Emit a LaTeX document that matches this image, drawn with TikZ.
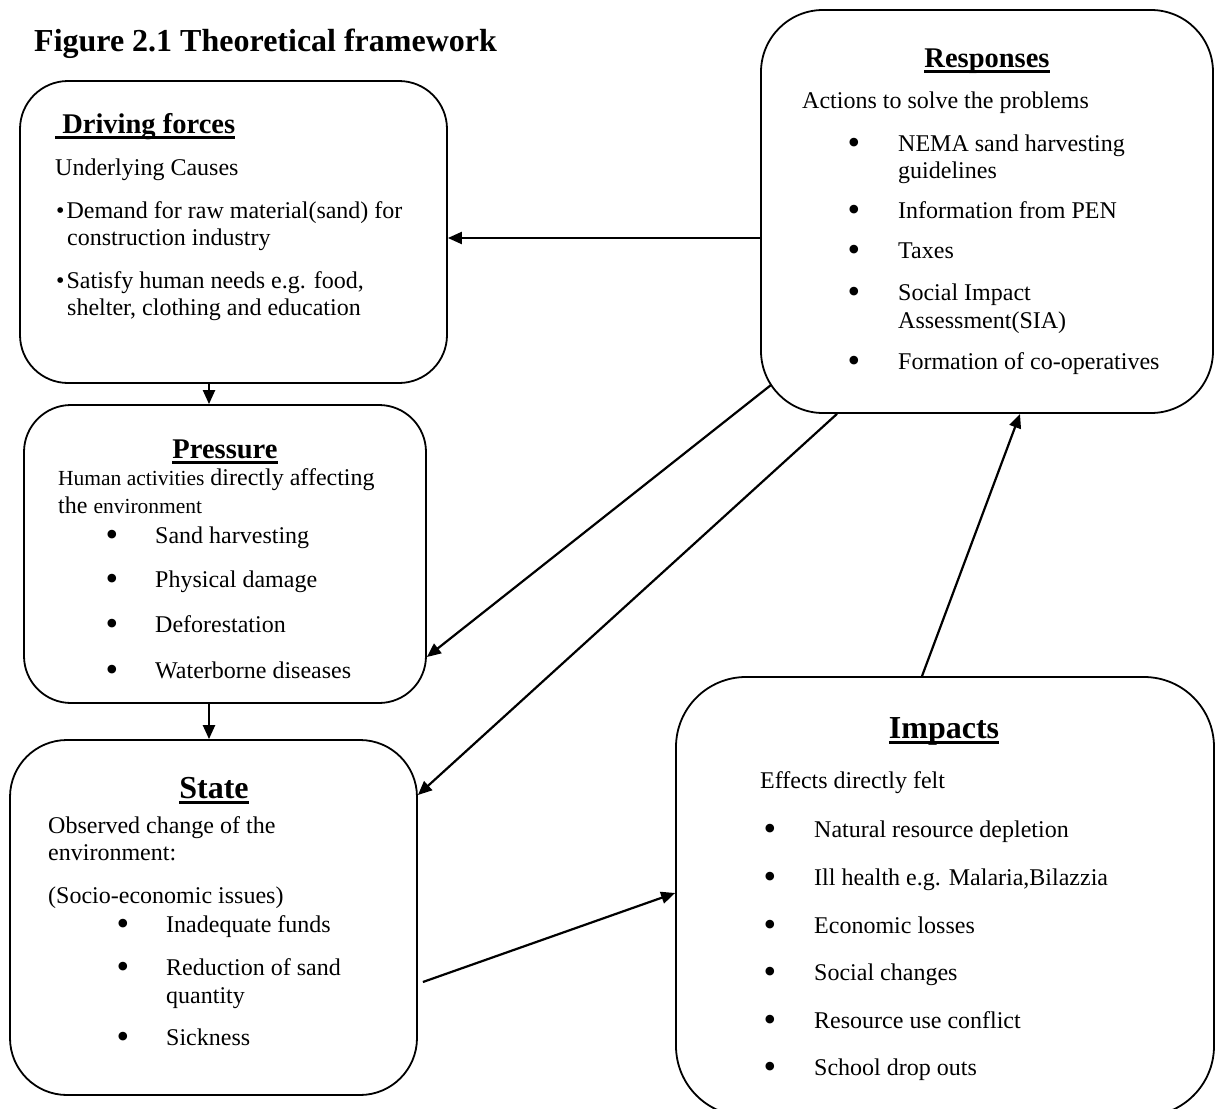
\documentclass[tikz,border=0pt]{standalone}
\usepackage{fontspec}
\setmainfont{Liberation Serif}
\usetikzlibrary{arrows.meta,calc}
\newcommand\bodyfont{\fontsize{24}{28}\selectfont}
\newcommand\smallbody{\fontsize{21.5}{25}\selectfont}
\newcommand\bigbullet{\fontsize{36}{36}\selectfont\raisebox{-3.5pt}{•}}
\newcommand\myul[1]{\setbox0\hbox{#1}\rlap{\rule[-5.5pt]{\wd0}{2.3pt}}\box0}
\begin{document}
\begin{tikzpicture}[x=1pt,y=-1pt,
  box/.style={draw,line width=1.8pt,rounded corners=#1,inner sep=0pt},
  txt/.style={anchor=base west,inner sep=0pt,font=\bodyfont},
  bul/.style={anchor=base,inner sep=0pt,font=\bodyfont},
  head/.style={anchor=base,inner sep=0pt,font=\fontsize{28.5}{32}\selectfont\bfseries},
  bighead/.style={anchor=base,inner sep=0pt,font=\fontsize{32}{36}\selectfont\bfseries},
  arr/.style={line width=2.2pt,-{Triangle[length=14pt,width=12pt]}}]
\useasboundingbox (0,0) rectangle (1215,1108);

% title
\node[anchor=base west,inner sep=0pt,font=\fontsize{32}{36}\selectfont\bfseries] (title) at (34,52) {Figure 2.1 Theoretical framework};

% boxes
\node[box=48,minimum width=427pt,minimum height=302pt] (df) at (233.5,232) {};
\node[box=47,minimum width=402pt,minimum height=298pt] (pr) at (225,554) {};
\node[box=57,minimum width=407pt,minimum height=355pt] (st) at (213.5,917.5) {};
\node[box=62,minimum width=452pt,minimum height=403pt] (rs) at (987,211.5) {};
\node[box=70,minimum width=538pt,minimum height=439pt] (im) at (945,896.5) {};

% Driving forces
\node[head,anchor=base west] (dfh) at (55,133) {\myul{\ Driving forces}};
\node[txt] (df1) at (55,175) {Underlying Causes};
\node[txt] (df2) at (56,218) {•\hspace{2pt}Demand for raw material(sand) for};
\node[txt] (df3) at (67,245) {construction industry};
\node[txt] (df4) at (56,288) {•\hspace{2pt}Satisfy human needs e.g. food,};
\node[txt] (df5) at (67,315) {shelter, clothing and education};

% Pressure
\node[head] (prh) at (225,458) {\myul{Pressure}};
\node[txt] (pr1) at (58,485) {{\smallbody Human activities} directly affecting};
\node[txt] (pr2) at (58,513) {the {\smallbody environment}};
\node[bul] (pb1) at (112,543) {\bigbullet};
\node[txt] (pt1) at (155,543) {Sand harvesting};
\node[bul] (pb2) at (112,587) {\bigbullet};
\node[txt] (pt2) at (155,587) {Physical damage};
\node[bul] (pb3) at (112,632) {\bigbullet};
\node[txt] (pt3) at (155,632) {Deforestation};
\node[bul] (pb4) at (112,678) {\bigbullet};
\node[txt] (pt4) at (155,678) {Waterborne diseases};

% State
\node[bighead] (sth) at (214,798) {\myul{State}};
\node[txt] (st1) at (48,833) {Observed change of the};
\node[txt] (st2) at (48,860) {environment:};
\node[txt] (st3) at (48,903) {(Socio-economic issues)};
\node[bul] (sb1) at (123,932) {\bigbullet};
\node[txt] (sx1) at (166,932) {Inadequate funds};
\node[bul] (sb2) at (123,975) {\bigbullet};
\node[txt] (sx2) at (166,975) {Reduction of sand};
\node[txt] (sx3) at (166,1003) {quantity};
\node[bul] (sb3) at (123,1045) {\bigbullet};
\node[txt] (sx4) at (166,1045) {Sickness};

% Responses
\node[head] (rsh) at (987,67) {\myul{Responses}};
\node[txt] (rs1) at (802,108) {Actions to solve the problems};
\node[bul] (rb1) at (854,151) {\bigbullet};
\node[txt] (rx1) at (898,151) {NEMA sand harvesting};
\node[txt] (rx2) at (898,178) {guidelines};
\node[bul] (rb2) at (854,218) {\bigbullet};
\node[txt] (rx3) at (898,218) {Information from PEN};
\node[bul] (rb3) at (854,258) {\bigbullet};
\node[txt] (rx4) at (898,258) {Taxes};
\node[bul] (rb4) at (854,300) {\bigbullet};
\node[txt] (rx5) at (898,300) {Social Impact};
\node[txt] (rx6) at (898,328) {Assessment(SIA)};
\node[bul] (rb5) at (854,369) {\bigbullet};
\node[txt] (rx7) at (898,369) {Formation of co-operatives};

% Impacts
\node[bighead] (imh) at (944,738) {\myul{Impacts}};
\node[txt] (im1) at (760,788) {Effects directly felt};
\node[bul] (ib1) at (770,837) {\bigbullet};
\node[txt] (ix1) at (814,837) {Natural resource depletion};
\node[bul] (ib2) at (770,885) {\bigbullet};
\node[txt] (ix2) at (814,885) {Ill health e.g. Malaria,Bilazzia};
\node[bul] (ib3) at (770,933) {\bigbullet};
\node[txt] (ix3) at (814,933) {Economic losses};
\node[bul] (ib4) at (770,980) {\bigbullet};
\node[txt] (ix4) at (814,980) {Social changes};
\node[bul] (ib5) at (770,1028) {\bigbullet};
\node[txt] (ix5) at (814,1028) {Resource use conflict};
\node[bul] (ib6) at (770,1075) {\bigbullet};
\node[txt] (ix6) at (814,1075) {School drop outs};

% connectors
\draw[arr] (rs.west |- 0,238) -- (df.east |- 0,238);
\draw[arr] ($(rs.south west)+(11,-29)$) -- (pr.east |- 0,657);
\draw[arr] (rs.south -| 837,0) -- (st.east |- 0,795);
\draw[arr] (im.north -| 922,0) -- (rs.south -| 1020,0);
\draw[arr] ($(st.east |- 0,982)+(5,0)$) -- (im.west |- 0,893);
\draw[arr] (df.south -| 209,0) -- (pr.north -| 209,0);
\draw[arr] (pr.south -| 209,0) -- (st.north -| 209,0);
\end{tikzpicture}
\end{document}
